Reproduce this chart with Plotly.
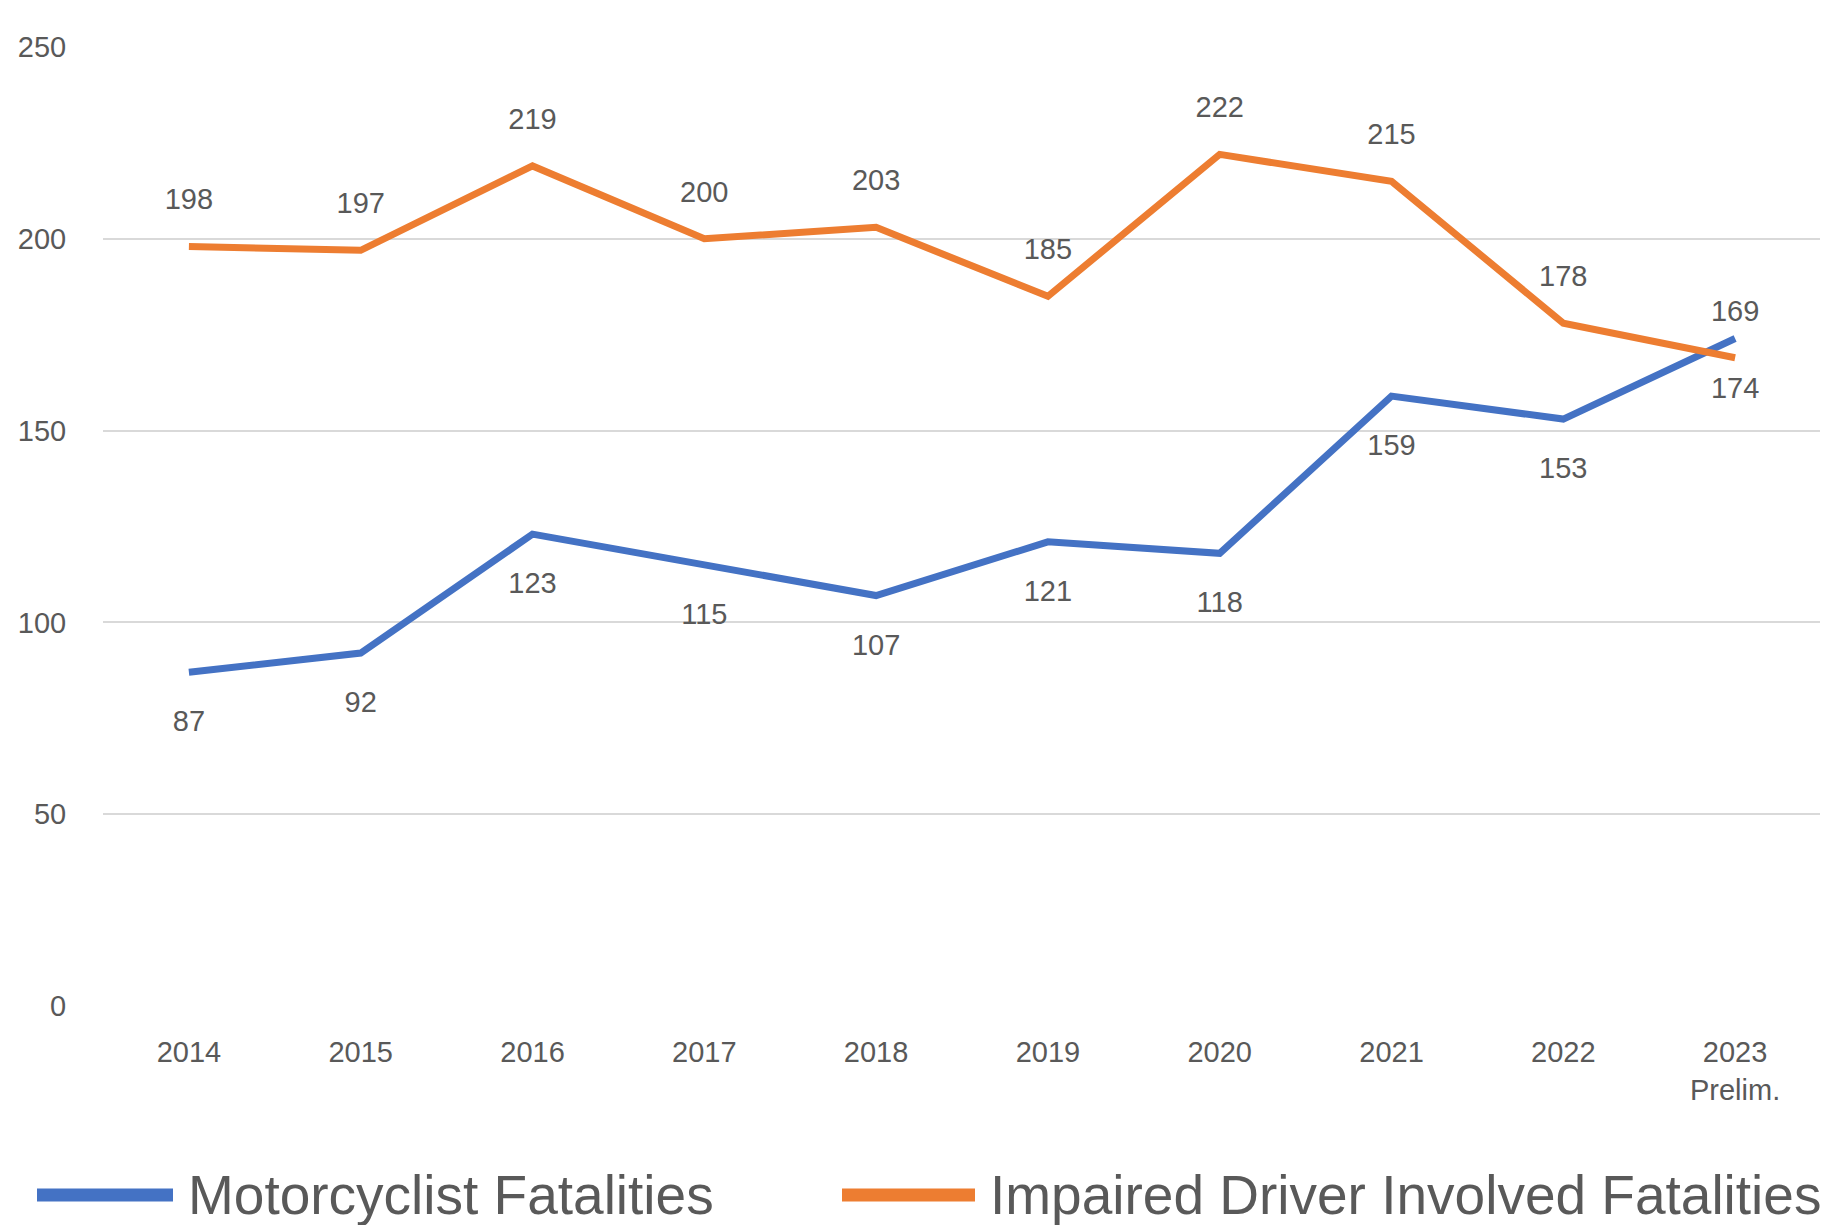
import plotly.graph_objects as go

years = ["2014", "2015", "2016", "2017", "2018", "2019", "2020", "2021", "2022", "2023"]
year_labels = ["2014", "2015", "2016", "2017", "2018", "2019", "2020", "2021", "2022", "2023<br>Prelim."]
motorcyclist = [87, 92, 123, 115, 107, 121, 118, 159, 153, 174]
impaired = [198, 197, 219, 200, 203, 185, 222, 215, 178, 169]
y_ticks = [0, 50, 100, 150, 200, 250]

OFF = 8  # page body margin
W, H = 1828 - OFF, 1225 - OFF
L, R, T, B = 103 - OFF, 7, 47 - OFF, 219
FONT = "Liberation Sans, Arial, sans-serif"
GRAY = "#595959"
BLUE = "#4472C4"
ORANGE = "#ED7D31"


def px_x(p):
    return (p - OFF - L) / (W - L - R)


def px_y(p):
    return (H - B - (p - OFF)) / (H - T - B)


fig = go.Figure()
fig.add_trace(go.Scatter(
    x=years, y=motorcyclist, mode="lines+markers+text",
    line=dict(color=BLUE, width=7),
    marker=dict(size=58, color="rgba(0,0,0,0)"),
    text=[str(v) for v in motorcyclist], textposition="bottom center",
    textfont=dict(family=FONT, size=29, color=GRAY),
    name="Motorcyclist Fatalities", showlegend=False, cliponaxis=False,
))
fig.add_trace(go.Scatter(
    x=years, y=impaired, mode="lines+markers+text",
    line=dict(color=ORANGE, width=7),
    marker=dict(size=46, color="rgba(0,0,0,0)"),
    text=[str(v) for v in impaired], textposition="top center",
    textfont=dict(family=FONT, size=29, color=GRAY),
    name="Impaired Driver Involved Fatalities", showlegend=False, cliponaxis=False,
))

# manual legend
legend_items = [
    (37, 173, 186, BLUE, "Motorcyclist Fatalities"),
    (842, 975, 988, ORANGE, "Impaired Driver Involved Fatalities"),
]
ly = 1195
for x0, x1, tx, col, label in legend_items:
    fig.add_shape(type="line", xref="paper", yref="paper",
                  x0=px_x(x0), x1=px_x(x1), y0=px_y(ly), y1=px_y(ly),
                  line=dict(color=col, width=13))
    fig.add_annotation(xref="paper", yref="paper", x=px_x(tx), y=px_y(ly),
                       xanchor="left", yanchor="middle", showarrow=False,
                       text=label, font=dict(family=FONT, size=55, color=GRAY))

fig.update_layout(
    width=W, height=H,
    margin=dict(l=L, r=R, t=T, b=B),
    paper_bgcolor="white", plot_bgcolor="white",
    font=dict(family=FONT, color=GRAY),
    showlegend=False,
)
fig.update_xaxes(
    type="category", tickvals=years, ticktext=year_labels,
    tickfont=dict(family=FONT, size=29, color=GRAY),
    showgrid=False, zeroline=False, showline=False,
    ticks="outside", ticklen=20, tickcolor="rgba(0,0,0,0)",
    range=[-0.5, 9.5],
)
fig.update_yaxes(
    range=[0, 250], tickvals=y_ticks,
    tickfont=dict(family=FONT, size=29, color=GRAY),
    showgrid=True, gridcolor="#D9D9D9", gridwidth=2,
    zeroline=False, showline=False,
    ticks="outside", ticklen=30, tickcolor="rgba(0,0,0,0)",
)

fig.write_html("out.html")
